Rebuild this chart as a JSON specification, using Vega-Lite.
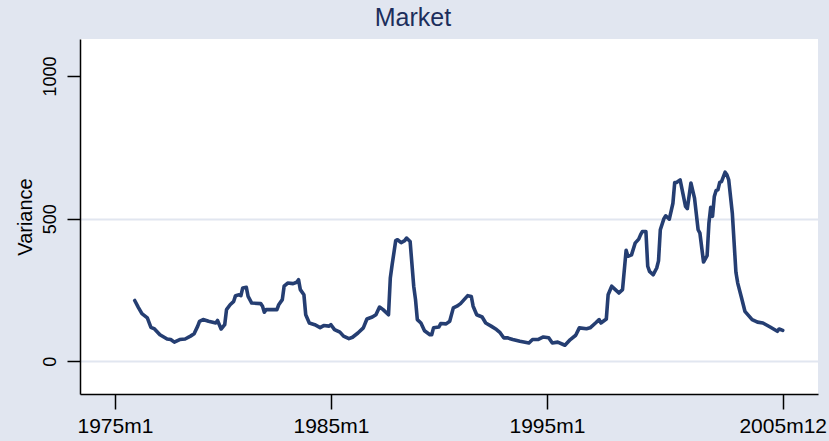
{
  "$schema": "https://vega.github.io/schema/vega-lite/v6.json",
  "width": 738,
  "height": 355,
  "autosize": {"type": "none"},
  "padding": {"left": 80, "top": 39, "right": 11, "bottom": 47},
  "background": "#E1E6F0",
  "view": {"fill": "white", "stroke": null},
  "title": {"text": "Market", "fontSize": 25, "font": "Liberation Sans", "fontWeight": "normal", "color": "#1C2E5C", "anchor": "middle", "frame": "group", "baseline": "alphabetic", "offset": 11, "dx": -36, "dy": 23},
  "data": {"values": [
    {"month":191,"variance":213},{"month":193,"variance":189},{"month":195,"variance":167},{"month":198,"variance":152},
    {"month":200,"variance":119},{"month":202,"variance":113},{"month":205,"variance":93},{"month":209,"variance":78},
    {"month":211,"variance":76},{"month":213,"variance":67},{"month":216,"variance":76},{"month":219,"variance":78},
    {"month":222,"variance":88},{"month":224,"variance":96},{"month":226,"variance":123},{"month":227,"variance":140},
    {"month":229,"variance":146},{"month":232,"variance":140},{"month":236,"variance":134},{"month":237,"variance":143},
    {"month":239,"variance":113},{"month":241,"variance":128},{"month":242,"variance":181},{"month":244,"variance":198},
    {"month":246,"variance":210},{"month":247,"variance":230},{"month":249,"variance":233},{"month":250,"variance":230},
    {"month":251,"variance":257},{"month":253,"variance":259},{"month":254,"variance":227},{"month":256,"variance":204},
    {"month":261,"variance":202},{"month":262,"variance":193},{"month":263,"variance":172},{"month":264,"variance":181},
    {"month":270,"variance":181},{"month":271,"variance":198},{"month":273,"variance":216},{"month":274,"variance":263},
    {"month":276,"variance":274},{"month":279,"variance":272},{"month":281,"variance":277},{"month":282,"variance":286},
    {"month":283,"variance":251},{"month":285,"variance":233},{"month":286,"variance":163},{"month":288,"variance":134},
    {"month":291,"variance":128},{"month":294,"variance":118},{"month":296,"variance":125},{"month":299,"variance":123},
    {"month":300,"variance":128},{"month":302,"variance":111},{"month":305,"variance":102},{"month":307,"variance":88},
    {"month":310,"variance":79},{"month":312,"variance":84},{"month":315,"variance":99},{"month":318,"variance":117},
    {"month":320,"variance":148},{"month":323,"variance":155},{"month":325,"variance":163},{"month":327,"variance":190},
    {"month":329,"variance":181},{"month":332,"variance":163},{"month":333,"variance":292},{"month":334,"variance":338},
    {"month":336,"variance":423},{"month":337,"variance":426},{"month":339,"variance":416},{"month":341,"variance":423},
    {"month":342,"variance":432},{"month":344,"variance":420},{"month":346,"variance":263},{"month":347,"variance":216},
    {"month":348,"variance":146},{"month":350,"variance":134},{"month":352,"variance":107},{"month":355,"variance":93},
    {"month":356,"variance":93},{"month":357,"variance":117},{"month":360,"variance":120},{"month":361,"variance":132},
    {"month":364,"variance":131},{"month":366,"variance":140},{"month":368,"variance":187},{"month":370,"variance":193},
    {"month":372,"variance":202},{"month":374,"variance":216},{"month":376,"variance":230},{"month":378,"variance":227},
    {"month":379,"variance":193},{"month":381,"variance":163},{"month":384,"variance":155},{"month":386,"variance":134},
    {"month":389,"variance":123},{"month":392,"variance":111},{"month":394,"variance":100},{"month":396,"variance":82},
    {"month":398,"variance":82},{"month":401,"variance":76},{"month":405,"variance":70},{"month":410,"variance":64},
    {"month":412,"variance":76},{"month":415,"variance":76},{"month":418,"variance":85},{"month":421,"variance":82},
    {"month":423,"variance":64},{"month":426,"variance":67},{"month":430,"variance":56},{"month":433,"variance":76},
    {"month":436,"variance":91},{"month":438,"variance":117},{"month":442,"variance":114},{"month":444,"variance":117},
    {"month":447,"variance":134},{"month":449,"variance":146},{"month":450,"variance":134},{"month":453,"variance":148},
    {"month":454,"variance":233},{"month":456,"variance":263},{"month":458,"variance":251},{"month":460,"variance":239},
    {"month":462,"variance":251},{"month":464,"variance":389},{"month":465,"variance":368},{"month":467,"variance":373},
    {"month":469,"variance":414},{"month":471,"variance":428},{"month":472,"variance":443},{"month":473,"variance":455},
    {"month":475,"variance":455},{"month":476,"variance":333},{"month":477,"variance":315},{"month":479,"variance":303},
    {"month":481,"variance":327},{"month":482,"variance":352},{"month":483,"variance":461},{"month":485,"variance":500},
    {"month":486,"variance":510},{"month":488,"variance":498},{"month":490,"variance":554},{"month":491,"variance":627},
    {"month":492,"variance":627},{"month":494,"variance":636},{"month":497,"variance":543},{"month":498,"variance":535},
    {"month":500,"variance":625},{"month":502,"variance":572},{"month":504,"variance":461},{"month":505,"variance":449},
    {"month":507,"variance":348},{"month":509,"variance":370},{"month":510,"variance":484},{"month":511,"variance":540},
    {"month":512,"variance":508},{"month":513,"variance":578},{"month":514,"variance":599},{"month":515,"variance":601},
    {"month":516,"variance":627},{"month":517,"variance":630},{"month":519,"variance":663},{"month":520,"variance":654},
    {"month":521,"variance":636},{"month":523,"variance":519},{"month":525,"variance":312},{"month":526,"variance":274},
    {"month":528,"variance":225},{"month":530,"variance":175},{"month":534,"variance":146},{"month":537,"variance":137},
    {"month":540,"variance":134},{"month":544,"variance":120},{"month":548,"variance":105},{"month":549,"variance":113},
    {"month":551,"variance":108}
  ]},
  "mark": {"type": "line", "color": "#253E72", "strokeWidth": 3.6, "strokeJoin": "round", "strokeCap": "round", "clip": true},
  "encoding": {
    "x": {
      "field": "month", "type": "quantitative",
      "scale": {"domain": [160.6, 570.6], "nice": false, "zero": false},
      "axis": {
        "values": [180, 300, 420, 551],
        "labelExpr": "(floor(datum.value/12)+1960) + 'm' + (datum.value%12+1)",
        "title": null, "grid": false,
        "domainColor": "black", "domainWidth": 1.5,
        "tickColor": "black", "tickWidth": 1.5, "tickSize": 15,
        "labelFontSize": 21, "labelFont": "Liberation Sans", "labelColor": "black",
        "labelPadding": 6, "labelFlush": false, "labelOverlap": false
      }
    },
    "y": {
      "field": "variance", "type": "quantitative",
      "scale": {"domain": [-115, 1130], "nice": false, "zero": false},
      "axis": {
        "values": [0, 500, 1000], "format": "d",
        "title": "Variance", "titleFontSize": 20, "titleFont": "Liberation Sans", "titleFontWeight": "normal", "titleColor": "black", "titlePadding": 6,
        "labelAngle": 270, "labelAlign": "center", "labelBaseline": "alphabetic",
        "labelFontSize": 18, "labelFont": "Liberation Sans", "labelColor": "black", "labelPadding": 12,
        "grid": true, "gridColor": "#E1E6F0", "gridWidth": 2,
        "gridOpacity": {"condition": {"test": "datum.value == 1000", "value": 0}, "value": 1},
        "domainColor": "black", "domainWidth": 1.5,
        "tickColor": "black", "tickWidth": 1.5, "tickSize": 13
      }
    }
  }
}
